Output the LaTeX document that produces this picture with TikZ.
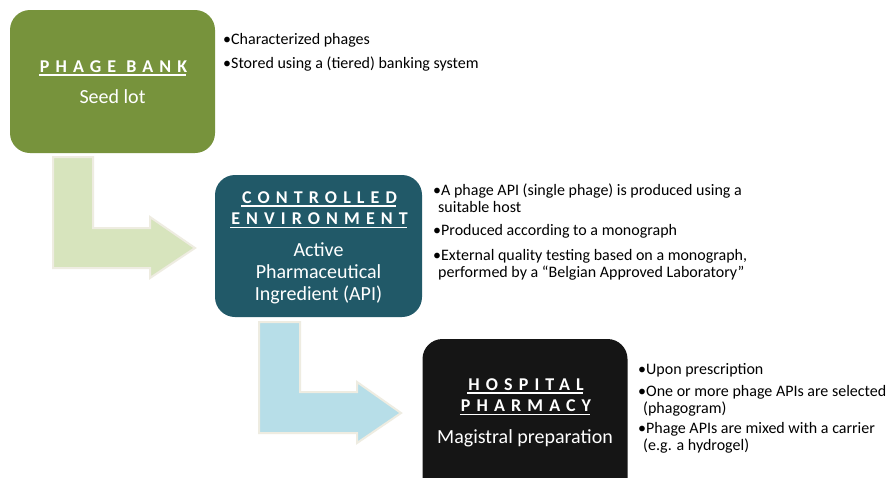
\documentclass[tikz,border=0pt]{standalone}
\usepackage{fontspec}
\setmainfont{Carlito}
\usetikzlibrary{positioning}

\definecolor{bankgreen}{HTML}{77933C}
\definecolor{envteal}{HTML}{215968}
\definecolor{pharmblack}{HTML}{151515}
\definecolor{arrowgreen}{HTML}{D7E4BD}
\definecolor{arrowblue}{HTML}{B7DEE8}
\definecolor{arrowrim}{HTML}{EEECE1}

% underlined, letter spaced title line
\newcommand{\titleline}[1]{%
  \setbox0\hbox{\kern1pt\addfontfeature{LetterSpace=34}#1\kern-0.06em}%
  \leavevmode\rlap{\copy0}\rule[-3.5pt]{\wd0}{1.6pt}}
\newcommand{\bul}{\textbullet}

\begin{document}
\begin{tikzpicture}[x=1pt, y=-1pt,
    stage/.style={rounded corners=20pt, inner sep=0pt},
    stagetitle/.style={text=white, font=\fontsize{18}{21.5}\selectfont\bfseries, align=center, inner sep=0pt},
    stagesub/.style={text=white, font=\fontsize{20}{22}\selectfont, align=center, inner sep=0pt},
    note/.style={anchor=west, font=\fontsize{16}{16.5}\selectfont, align=left, inner sep=0pt},
    bentarrow/.style={line width=2pt, draw=arrowrim, line join=miter}]
    \clip (0,0) rectangle (888,477);

    % Bent arrows between the stages
    \fill[white] (0,0) rectangle (888,477);
    \draw[bentarrow, fill=arrowgreen]
        (53,157) -- (93,157) -- (93,228) -- (150,228) -- (150,217) -- (195,248)
        -- (150,278) -- (150,268) -- (53,268) -- cycle;
    \draw[bentarrow, fill=arrowblue]
        (259,322) -- (300,322) -- (300,392) -- (357,392) -- (357,382) -- (401,413)
        -- (357,443) -- (357,433) -- (259,433) -- cycle;

    % Stage boxes
    \node[stage, fill=bankgreen, minimum width=205pt, minimum height=143pt] (bank) at (112.5,81.5) {};
    \node[stage, fill=envteal, minimum width=207pt, minimum height=142pt] (env) at (318.5,246) {};
    \node[stage, fill=pharmblack, minimum width=205pt, minimum height=170pt] (pharm) at (525,424) {};

    % Texts inside the boxes
    \node[stagetitle] (bank title) at (112.5,68) {\titleline{PHAGE BANK}};
    \node[stagesub] (bank sub) at (112.5,97) {Seed lot};
    \node[stagetitle] (env title) at (318.5,210) {\titleline{CONTROLLED}\\\titleline{ENVIRONMENT}};
    \node[stagesub] (env sub) at (318.5,273.5) {Active\\Pharmaceutical\\Ingredient (API)};
    \node[stagetitle] (pharm title) at (525,397) {\titleline{HOSPITAL}\\\titleline{PHARMACY}};
    \node[stagesub] (pharm sub) at (525,438) {Magistral preparation};

    % Notes next to the boxes
    \node[note] (bank a) at (223,40) {\bul Characterized phages};
    \node[note] (bank b) at (223,64) {\bul Stored using a (tiered) banking system};
    \node[note] (env a) at (433,198) {\bul A phage API (single phage) is produced using a\\\hspace*{5pt}suitable host};
    \node[note] (env b) at (433,231) {\bul Produced according to a monograph};
    \node[note] (env c) at (433,265) {\bul External quality testing based on a monograph,\\\hspace*{5pt}performed by a “Belgian Approved Laboratory”};
    \node[note] (pharm a) at (638,370) {\bul Upon prescription};
    \node[note] (pharm b) at (638,401) {\bul One or more phage APIs are selected\\\hspace*{5pt}(phagogram)};
    \node[note] (pharm c) at (638,438) {\bul Phage APIs are mixed with a carrier\\\hspace*{5pt}(e.g. a hydrogel)};
\end{tikzpicture}
\end{document}
